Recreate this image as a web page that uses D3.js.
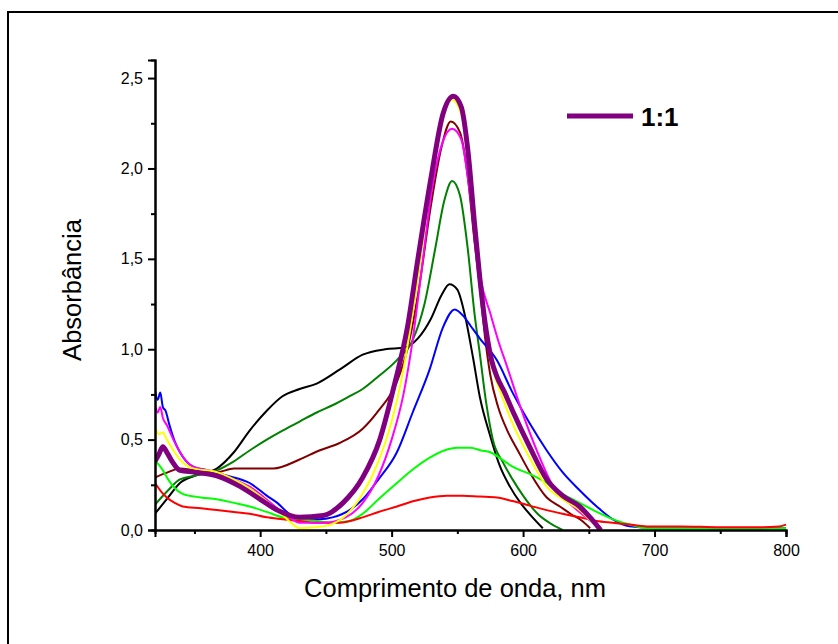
<!DOCTYPE html>
<html>
<head>
<meta charset="utf-8">
<script src="https://cdn.jsdelivr.net/npm/d3@7"></script>
<style>
  body { margin: 0; background: #fff; }
  svg { display: block; }
  svg text { font-family: "Liberation Sans", Arial, sans-serif; fill: #000; }
</style>
</head>
<body>
<svg id="chart" width="838" height="644"></svg>
<script>
// absorption spectra, [wavelength nm, absorbance]
var blackCurve = [[320,0.09],[330,0.18],[339,0.26],[350,0.30],[367,0.34],[380,0.43],[392,0.55],[405,0.66],[417,0.74],[430,0.78],[443,0.81],[461,0.89],[478,0.97],[495,1.0],[510,1.01],[520,1.06],[530,1.17],[538,1.30],[544,1.36],[550,1.33],[556,1.18],[562,0.95],[567,0.74],[575,0.52],[582,0.36],[590,0.24],[598,0.15],[606,0.08],[615,0.01]];
var darkGreenCurve = [[320,0.14],[330,0.22],[339,0.28],[350,0.30],[367,0.33],[380,0.38],[392,0.44],[405,0.50],[417,0.55],[430,0.60],[443,0.65],[455,0.69],[468,0.74],[478,0.78],[490,0.85],[504,0.94],[516,1.05],[525,1.25],[533,1.55],[540,1.82],[546,1.93],[552,1.85],[558,1.55],[563,1.20],[567,0.98],[572,0.70],[577,0.50],[585,0.37],[592,0.28],[600,0.19],[611,0.09],[620,0.04],[630,0.0]];
var maroonCurve = [[320,0.29],[330,0.32],[339,0.34],[350,0.33],[367,0.32],[380,0.34],[392,0.34],[410,0.34],[430,0.39],[445,0.44],[460,0.48],[478,0.56],[490,0.66],[504,0.82],[512,1.0],[520,1.3],[530,1.8],[538,2.12],[545,2.26],[552,2.2],[558,1.95],[563,1.6],[567,1.35],[571,1.07],[575,0.86],[581,0.68],[588,0.55],[596,0.44],[605,0.32],[618,0.18],[628,0.13],[636,0.09],[645,0.05],[651,0.01]];
var blueCurve = [[320,0.77],[322,0.72],[324,0.76],[326,0.68],[328,0.66],[331,0.58],[335,0.49],[339,0.43],[349,0.35],[360,0.33],[375,0.30],[392,0.26],[405,0.19],[413,0.15],[422,0.09],[430,0.06],[445,0.06],[455,0.07],[468,0.11],[478,0.17],[490,0.28],[504,0.43],[516,0.65],[529,0.89],[539,1.12],[548,1.22],[555,1.18],[560,1.13],[567,1.06],[580,0.94],[592,0.76],[605,0.59],[618,0.44],[630,0.32],[643,0.22],[656,0.13],[668,0.06],[681,0.02],[700,0.01],[800,0.01]];
var magentaCurve = [[320,0.69],[322,0.65],[324,0.68],[326,0.62],[329,0.58],[334,0.50],[339,0.43],[349,0.35],[367,0.32],[380,0.28],[392,0.24],[403,0.18],[413,0.12],[422,0.07],[430,0.04],[448,0.04],[465,0.07],[478,0.15],[490,0.30],[500,0.50],[509,0.75],[516,1.05],[523,1.45],[531,1.90],[539,2.15],[546,2.22],[553,2.16],[558,1.95],[563,1.65],[568,1.38],[575,1.20],[581,1.05],[588,0.90],[598,0.68],[611,0.43],[623,0.24],[638,0.13],[653,0.04],[660,0.0]];
var yellowCurve = [[320,0.57],[323,0.53],[326,0.54],[329,0.50],[334,0.44],[339,0.39],[349,0.34],[367,0.32],[380,0.28],[392,0.23],[403,0.17],[413,0.11],[422,0.05],[430,0.01],[448,0.02],[465,0.08],[478,0.20],[490,0.38],[500,0.60],[508,0.85],[515,1.15],[522,1.50],[530,1.95],[539,2.30],[546,2.38],[553,2.30],[558,2.05],[563,1.65],[567,1.35],[572,1.07],[577,0.89],[585,0.72],[592,0.59],[605,0.40],[618,0.24],[630,0.17],[643,0.11],[653,0.04],[660,0.0]];
var limeCurve = [[320,0.38],[323,0.36],[326,0.33],[330,0.28],[334,0.24],[341,0.20],[355,0.18],[367,0.17],[380,0.15],[392,0.13],[405,0.10],[417,0.07],[430,0.06],[443,0.05],[455,0.04],[468,0.05],[478,0.09],[490,0.17],[504,0.26],[517,0.34],[529,0.40],[540,0.44],[550,0.455],[560,0.455],[568,0.44],[575,0.43],[584,0.39],[592,0.35],[605,0.31],[618,0.26],[630,0.20],[643,0.15],[656,0.10],[668,0.06],[681,0.03],[694,0.01],[720,0.01],[800,0.01]];
var redCurve = [[320,0.26],[325,0.21],[329,0.18],[335,0.15],[341,0.13],[355,0.12],[367,0.11],[380,0.10],[392,0.09],[405,0.07],[417,0.06],[430,0.05],[443,0.04],[460,0.04],[478,0.07],[490,0.10],[504,0.13],[517,0.16],[529,0.18],[542,0.19],[554,0.19],[567,0.185],[580,0.18],[592,0.16],[605,0.135],[618,0.11],[630,0.09],[643,0.07],[656,0.05],[668,0.04],[681,0.03],[694,0.02],[720,0.02],[750,0.015],[780,0.015],[795,0.02],[800,0.03]];
var purpleCurve = [[320,0.38],[323,0.42],[326,0.46],[329,0.43],[333,0.38],[339,0.33],[350,0.32],[367,0.30],[385,0.24],[400,0.17],[413,0.11],[430,0.07],[448,0.08],[463,0.15],[478,0.29],[491,0.50],[502,0.80],[512,1.12],[520,1.50],[530,1.95],[539,2.30],[547,2.40],[553,2.34],[558,2.10],[563,1.70],[567,1.40],[572,1.10],[576,0.94],[580,0.85],[586,0.76],[592,0.66],[605,0.46],[618,0.28],[630,0.19],[643,0.13],[651,0.07],[659,0.0]];

var xTicks = [400, 500, 600, 700, 800];
var yTicks = [0, 0.5, 1.0, 1.5, 2.0, 2.5];
var legendLabel = "1:1";

(function() {
  var series = [
    { data: blackCurve, color: "#000000", width: 2 },
    { data: darkGreenCurve, color: "#008000", width: 2 },
    { data: maroonCurve, color: "#800000", width: 2 },
    { data: blueCurve, color: "#0000ff", width: 2 },
    { data: limeCurve, color: "#00ff00", width: 2 },
    { data: redCurve, color: "#ff0000", width: 2 },
    { data: magentaCurve, color: "#ff00ff", width: 2 },
    { data: yellowCurve, color: "#ffff00", width: 2 },
    { data: purpleCurve, color: "#800080", width: 5 }
  ];

  var svg = d3.select("#chart");

  // outer frame (only left and top edges fall inside the window)
  svg.append("rect")
    .attr("x", 8).attr("y", 12)
    .attr("width", 900).attr("height", 700)
    .attr("fill", "none").attr("stroke", "#000").attr("stroke-width", 2);

  var left = 155, right = 786, plotTop = 60, bottom = 530;
  var x = d3.scaleLinear().domain([320, 800]).range([left, right]);
  var y = d3.scaleLinear().domain([0, 2.6]).range([bottom, plotTop]);

  var comma = function(d) { return d3.format(".1f")(d).replace(".", ","); };

  svg.append("clipPath").attr("id", "plot")
    .append("rect").attr("x", left).attr("y", plotTop - 10)
    .attr("width", right - left + 3).attr("height", bottom - plotTop + 10);

  var line = d3.line()
    .x(function(d) { return x(d[0]); })
    .y(function(d) { return y(d[1]); })
    .curve(d3.curveMonotoneX);

  var lineGroup = svg.append("g").attr("clip-path", "url(#plot)");
  series.forEach(function(s) {
    lineGroup.append("path")
      .attr("d", line(s.data))
      .attr("fill", "none")
      .attr("stroke", s.color)
      .attr("stroke-width", s.width)
      .attr("stroke-linejoin", "round");
  });

  // minor ticks, then major ticks with labels
  var xMinor = d3.axisBottom(x).tickValues([350, 450, 550, 650, 750]).tickSize(4).tickFormat("");
  var yMinor = d3.axisLeft(y).tickValues([0.25, 0.75, 1.25, 1.75, 2.25]).tickSize(4).tickFormat("");
  var xAxis = d3.axisBottom(x).tickValues(xTicks).tickSize(7).tickPadding(8).tickFormat(d3.format("d"));
  var yAxis = d3.axisLeft(y).tickValues(yTicks).tickSize(7).tickPadding(5).tickFormat(comma);

  svg.append("g").attr("transform", "translate(0," + bottom + ")").call(xMinor);
  svg.append("g").attr("transform", "translate(" + left + ",0)").call(yMinor);
  svg.append("g").attr("class", "x-axis").attr("transform", "translate(0," + bottom + ")").call(xAxis);
  svg.append("g").attr("class", "y-axis").attr("transform", "translate(" + left + ",0)").call(yAxis);

  svg.selectAll(".domain").attr("stroke", "#000").attr("stroke-width", 2);
  svg.selectAll(".tick line").attr("stroke", "#000").attr("stroke-width", 2);
  svg.selectAll(".tick text").attr("font-size", 16).attr("font-family", null);

  // axis titles
  svg.append("text")
    .attr("x", 455).attr("y", 597)
    .attr("text-anchor", "middle")
    .style("font-size", "25.5px")
    .text("Comprimento de onda, nm");

  svg.append("text")
    .attr("transform", "translate(81,290) rotate(-90)")
    .attr("text-anchor", "middle")
    .style("font-size", "25.5px")
    .text("Absorbância");

  // legend
  svg.append("line")
    .attr("x1", 567).attr("x2", 633).attr("y1", 116).attr("y2", 116)
    .attr("stroke", "#800080").attr("stroke-width", 5);
  svg.append("text")
    .attr("x", 641).attr("y", 126)
    .style("font-size", "26px").style("font-weight", "bold")
    .text(legendLabel);
})();
</script>
</body>
</html>
